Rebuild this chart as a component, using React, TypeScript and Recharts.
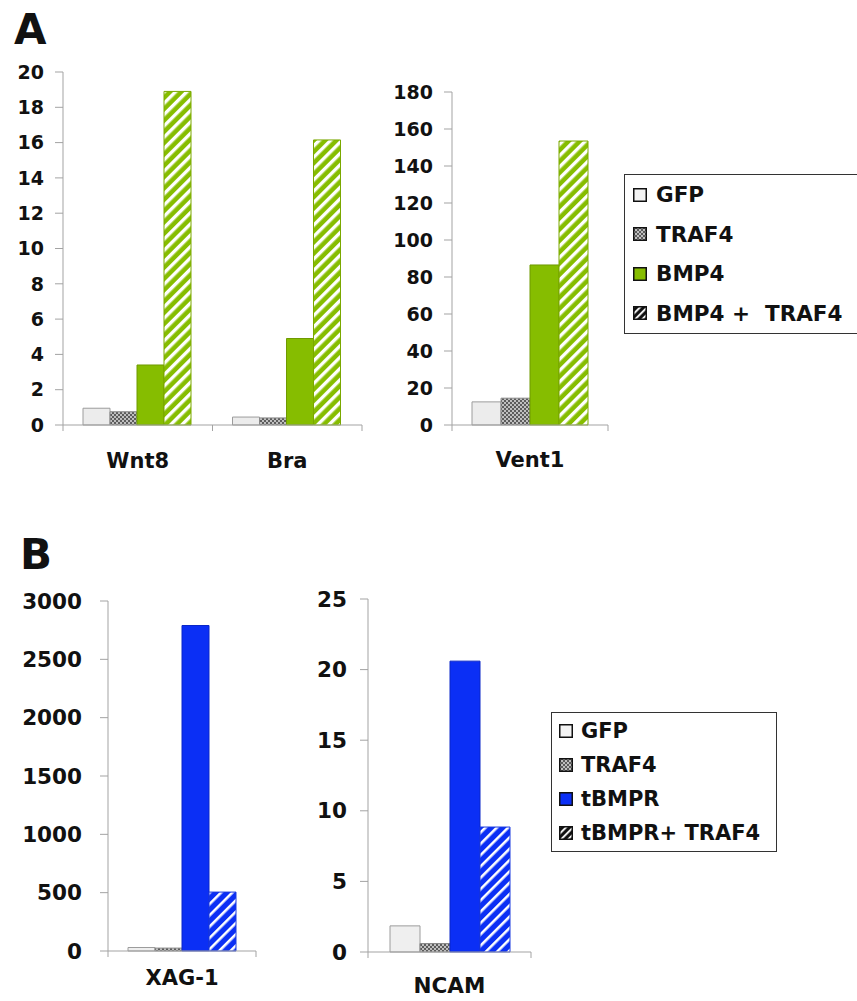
import React from "react"
import { BarChart, Bar, XAxis, YAxis, Legend } from "recharts"

const FONT = '"DejaVu Sans", Arial, Helvetica, sans-serif'
const AXIS_GREY = "#a3a3a3"
const GREEN = "#86bd00"
const BLUE = "#0b2ff5"

// Panel A – left plot
const aGenesLeft = ["Wnt8", "Bra"]
const aGfpLeft = [0.95, 0.45]
const aTraf4Left = [0.75, 0.4]
const aBmp4Left = [3.4, 4.9]
const aComboLeft = [18.9, 16.15]
const aTicksLeft = [0, 2, 4, 6, 8, 10, 12, 14, 16, 18, 20]

// Panel A – right plot
const aGenesRight = ["Vent1"]
const aGfpRight = [12.5]
const aTraf4Right = [14.5]
const aBmp4Right = [86.5]
const aComboRight = [153.5]
const aTicksRight = [0, 20, 40, 60, 80, 100, 120, 140, 160, 180]

// Panel B – left plot
const bGenesLeft = ["XAG-1"]
const bGfpLeft = [30]
const bTraf4Left = [25]
const bTbmprLeft = [2790]
const bComboLeft = [505]
const bTicksLeft = [0, 500, 1000, 1500, 2000, 2500, 3000]

// Panel B – right plot
const bGenesRight = ["NCAM"]
const bGfpRight = [1.85]
const bTraf4Right = [0.6]
const bTbmprRight = [20.6]
const bComboRight = [8.85]
const bTicksRight = [0, 5, 10, 15, 20, 25]

const aSeriesNames = ["GFP", "TRAF4", "BMP4", "BMP4 +  TRAF4"]
const bSeriesNames = ["GFP", "TRAF4", "tBMPR", "tBMPR+ TRAF4"]

type Row = { gene: string; gfp: number; traf4: number; treat: number; combo: number }

function buildRows(genes: string[], gfp: number[], traf4: number[], treat: number[], combo: number[]): Row[] {
  return genes.map((gene, i) => ({ gene, gfp: gfp[i], traf4: traf4[i], treat: treat[i], combo: combo[i] }))
}

const SERIES_KEYS = ["gfp", "traf4", "treat", "combo"]

function Patterns() {
  return (
    <svg width={0} height={0} style={{ position: "absolute" }}>
      <defs>
        <pattern id="greenHatch" width={8} height={8} patternUnits="userSpaceOnUse" patternTransform="rotate(45)">
          <rect width={8} height={8} fill={GREEN} />
          <rect width={3.4} height={8} fill="#ffffff" />
        </pattern>
        <pattern id="blueHatch" width={8} height={8} patternUnits="userSpaceOnUse" patternTransform="rotate(45)">
          <rect width={8} height={8} fill={BLUE} />
          <rect width={2.6} height={8} fill="#ffffff" />
        </pattern>
        <pattern id="dots" width={4} height={4} patternUnits="userSpaceOnUse">
          <rect width={4} height={4} fill="#5c5c5c" />
          <circle cx={1} cy={1} r={1} fill="#e0e0e0" />
          <circle cx={3} cy={3} r={1} fill="#e0e0e0" />
        </pattern>
        <pattern id="legendHatch" width={5} height={5} patternUnits="userSpaceOnUse" patternTransform="rotate(45)">
          <rect width={5} height={5} fill="#111111" />
          <rect width={1.8} height={5} fill="#ffffff" />
        </pattern>
      </defs>
    </svg>
  )
}

// category label plus the tick marks on both edges of its band
function CategoryTick(props: any) {
  const { x, y, payload, band, labelDy, fontSize } = props
  return (
    <g>
      <line x1={x - band / 2} x2={x - band / 2} y1={y} y2={y + 6} stroke={AXIS_GREY} />
      <line x1={x + band / 2} x2={x + band / 2} y1={y} y2={y + 6} stroke={AXIS_GREY} />
      <text x={x} y={y + labelDy} textAnchor="middle" fontFamily={FONT} fontWeight="bold" fontSize={fontSize} fill="#111">
        {payload.value}
      </text>
    </g>
  )
}

function BoxLegend(props: any) {
  const { payload, swatches, fontSize, rowHeight, width, padTop, padLeft, gap } = props
  const items = [...(payload || [])].sort(
    (a: any, b: any) => SERIES_KEYS.indexOf(a.dataKey) - SERIES_KEYS.indexOf(b.dataKey)
  )
  return (
    <div
      style={{
        border: "1.5px solid #333",
        background: "#fff",
        width,
        paddingTop: padTop,
        paddingBottom: padTop,
        boxSizing: "border-box",
      }}
    >
      {items.map((item: any) => (
        <div key={item.dataKey} style={{ display: "flex", alignItems: "center", height: rowHeight, paddingLeft: padLeft }}>
          <svg width={14} height={14} style={{ marginRight: gap, flex: "none" }}>
            <rect x={0.75} y={0.75} width={12.5} height={12.5} fill={swatches[item.dataKey]} stroke="#111" strokeWidth={1.5} />
          </svg>
          <span
            style={{ fontFamily: FONT, fontWeight: "bold", fontSize, color: "#111", whiteSpace: "pre", lineHeight: 1 }}
          >
            {item.value}
          </span>
        </div>
      ))}
    </div>
  )
}

interface LegendBox {
  left: number
  top: number
  width: number
  rowHeight: number
  padTop: number
  padLeft: number
  gap: number
  fontSize: number
  swatches: Record<string, string>
}

interface PlotProps {
  data: Row[]
  names: string[]
  fills: Record<string, string>
  strokes: Record<string, string>
  ticks: number[]
  width: number
  height: number
  margin: { top: number; right: number; bottom: number; left: number }
  yAxisWidth: number
  xAxisHeight: number
  tickFont: number
  tickGap: number
  labelFont: number
  labelDy: number
  barCategoryGap: number
  legend?: LegendBox
}

function Plot(p: PlotProps) {
  const plotWidth = p.width - p.margin.left - p.margin.right - p.yAxisWidth
  const band = plotWidth / p.data.length
  return (
    <BarChart
      width={p.width}
      height={p.height}
      data={p.data}
      margin={p.margin}
      barGap={0}
      barCategoryGap={p.barCategoryGap}
    >
      <XAxis
        dataKey="gene"
        height={p.xAxisHeight}
        axisLine={{ stroke: AXIS_GREY }}
        tickLine={false}
        tickSize={0}
        tickMargin={0}
        interval={0}
        tick={<CategoryTick band={band} labelDy={p.labelDy} fontSize={p.labelFont} />}
      />
      <YAxis
        width={p.yAxisWidth}
        domain={[p.ticks[0], p.ticks[p.ticks.length - 1]]}
        ticks={p.ticks}
        interval={0}
        axisLine={{ stroke: AXIS_GREY }}
        tickLine={{ stroke: AXIS_GREY }}
        tickSize={8}
        tickMargin={p.tickGap}
        tick={{ fontFamily: FONT, fontWeight: "bold", fontSize: p.tickFont, fill: "#111" }}
      />
      {p.legend && (
        <Legend
          layout="vertical"
          align="center"
          verticalAlign="middle"
          wrapperStyle={{ left: p.legend.left, top: p.legend.top, width: p.legend.width }}
          content={
            <BoxLegend
              swatches={p.legend.swatches}
              fontSize={p.legend.fontSize}
              rowHeight={p.legend.rowHeight}
              width={p.legend.width}
              padTop={p.legend.padTop}
              padLeft={p.legend.padLeft}
              gap={p.legend.gap}
            />
          }
        />
      )}
      {SERIES_KEYS.map((key, i) => (
        <Bar
          key={key}
          dataKey={key}
          name={p.names[i]}
          fill={p.fills[key]}
          stroke={p.strokes[key]}
          strokeWidth={1}
          isAnimationActive={false}
        />
      ))}
    </BarChart>
  )
}

const aFills = { gfp: "#ececec", traf4: "url(#dots)", treat: GREEN, combo: "url(#greenHatch)" }
const aStrokes = { gfp: "#9c9c9c", traf4: "#8a8a8a", treat: "#6f9a00", combo: "#7aa800" }
const bFills = { gfp: "#efefef", traf4: "url(#dots)", treat: BLUE, combo: "url(#blueHatch)" }
const bStrokes = { gfp: "#9c9c9c", traf4: "#8a8a8a", treat: "#0a27c8", combo: "#1a3ae0" }

const aSwatches = { gfp: "#f4f4f4", traf4: "url(#dots)", treat: GREEN, combo: "url(#legendHatch)" }
const bSwatches = { gfp: "#f4f4f4", traf4: "url(#dots)", treat: BLUE, combo: "url(#legendHatch)" }

const panelLetter: React.CSSProperties = {
  position: "absolute",
  fontFamily: FONT,
  fontWeight: "bold",
  fontSize: 42,
  lineHeight: 1,
  color: "#111",
}

export default function App() {
  return (
    <div
      style={{
        position: "absolute",
        left: 0,
        top: 0,
        width: 857,
        height: 1001,
        overflow: "hidden",
        background: "#fff",
      }}
    >
      <Patterns />
      <div style={{ ...panelLetter, left: 14, top: 9 }}>A</div>
      <div style={{ ...panelLetter, left: 20, top: 534 }}>B</div>

      <div style={{ position: "absolute", left: 0, top: 50 }}>
        <Plot
          data={buildRows(aGenesLeft, aGfpLeft, aTraf4Left, aBmp4Left, aComboLeft)}
          names={aSeriesNames}
          fills={aFills}
          strokes={aStrokes}
          ticks={aTicksLeft}
          width={380}
          height={430}
          margin={{ top: 22, right: 18, bottom: 10, left: 0 }}
          yAxisWidth={63}
          xAxisHeight={45}
          tickFont={19}
          tickGap={11}
          labelFont={21}
          labelDy={43}
          barCategoryGap={20}
        />
      </div>

      <div style={{ position: "absolute", left: 380, top: 50 }}>
        <Plot
          data={buildRows(aGenesRight, aGfpRight, aTraf4Right, aBmp4Right, aComboRight)}
          names={aSeriesNames}
          fills={aFills}
          strokes={aStrokes}
          ticks={aTicksRight}
          width={477}
          height={430}
          margin={{ top: 42, right: 249, bottom: 10, left: 0 }}
          yAxisWidth={72}
          xAxisHeight={45}
          tickFont={19}
          tickGap={11}
          labelFont={21}
          labelDy={42}
          barCategoryGap={20}
          legend={{ left: 244, top: 124, width: 245, rowHeight: 39.5, padTop: 0, padLeft: 8, gap: 9, fontSize: 21.5, swatches: aSwatches }}
        />
      </div>

      <div style={{ position: "absolute", left: 0, top: 580 }}>
        <Plot
          data={buildRows(bGenesLeft, bGfpLeft, bTraf4Left, bTbmprLeft, bComboLeft)}
          names={bSeriesNames}
          fills={bFills}
          strokes={bStrokes}
          ticks={bTicksLeft}
          width={280}
          height={421}
          margin={{ top: 21, right: 24, bottom: 8, left: 0 }}
          yAxisWidth={108}
          xAxisHeight={42}
          tickFont={21.5}
          tickGap={18}
          labelFont={21}
          labelDy={34}
          barCategoryGap={20}
        />
      </div>

      <div style={{ position: "absolute", left: 290, top: 580 }}>
        <Plot
          data={buildRows(bGenesRight, bGfpRight, bTraf4Right, bTbmprRight, bComboRight)}
          names={bSeriesNames}
          fills={bFills}
          strokes={bStrokes}
          ticks={bTicksRight}
          width={567}
          height={421}
          margin={{ top: 19, right: 326, bottom: 8, left: 0 }}
          yAxisWidth={78}
          xAxisHeight={41}
          tickFont={21.5}
          tickGap={13}
          labelFont={21.5}
          labelDy={41}
          barCategoryGap={22}
          legend={{ left: 261, top: 132, width: 226, rowHeight: 34, padTop: 1, padLeft: 7, gap: 8, fontSize: 21, swatches: bSwatches }}
        />
      </div>
    </div>
  )
}
